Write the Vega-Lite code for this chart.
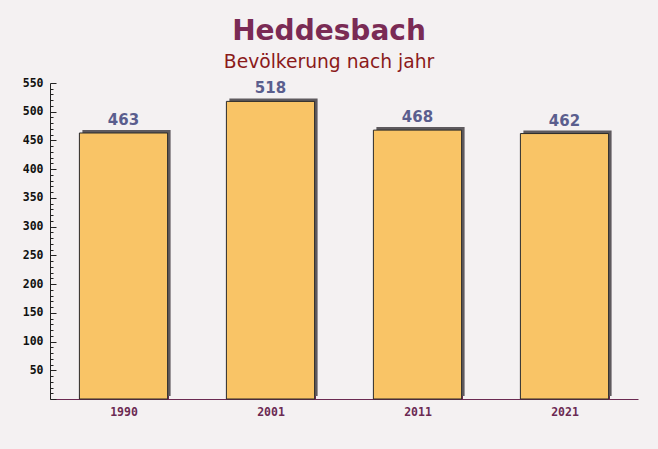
{
  "$schema": "https://vega.github.io/schema/vega-lite/v6.json",
  "width": 588,
  "height": 316,
  "autosize": {"type": "none"},
  "padding": {"left": 50, "top": 83, "right": 20, "bottom": 50},
  "background": "#f4f1f2",
  "title": {
    "text": "Heddesbach",
    "subtitle": "Bevölkerung nach jahr",
    "anchor": "middle",
    "dx": -15,
    "offset": 5,
    "font": "DejaVu Sans",
    "fontSize": 28,
    "fontWeight": "bold",
    "color": "#7a2b55",
    "subtitleFont": "DejaVu Sans",
    "subtitleFontSize": 18.7,
    "subtitleColor": "#8b1a1a",
    "subtitlePadding": 7
  },
  "config": {"view": {"stroke": null}},
  "data": {
    "values": [
      {"jahr": "1990", "einwohner": 463},
      {"jahr": "2001", "einwohner": 518},
      {"jahr": "2011", "einwohner": 468},
      {"jahr": "2021", "einwohner": 462}
    ]
  },
  "encoding": {
    "x": {
      "field": "jahr",
      "type": "ordinal",
      "scale": {"paddingInner": 0.4, "paddingOuter": 0.2},
      "axis": {
        "title": null,
        "labelAngle": 0,
        "labelFont": "DejaVu Sans Mono",
        "labelFontWeight": "bold",
        "labelFontSize": 11.5,
        "labelColor": "#6b2a52",
        "labelPadding": 12,
        "tickBand": "extent",
        "tickSize": -5,
        "tickColor": "#6b2a52",
        "domainColor": "#6b2a52"
      }
    },
    "y": {
      "field": "einwohner",
      "type": "quantitative",
      "scale": {"domain": [0, 550], "nice": false},
      "axis": {
        "title": null,
        "grid": false,
        "values": [0,10,20,30,40,50,60,70,80,90,100,110,120,130,140,150,160,170,180,190,200,210,220,230,240,250,260,270,280,290,300,310,320,330,340,350,360,370,380,390,400,410,420,430,440,450,460,470,480,490,500,510,520,530,540,550],
        "labelExpr": "datum.value % 50 === 0 && datum.value > 0 ? datum.label : ''",
        "labelFont": "DejaVu Sans Mono",
        "labelFontWeight": "bold",
        "labelFontSize": 11.5,
        "labelColor": "#111111",
        "labelPadding": 13,
        "tickSize": {"condition": {"test": "datum.value % 50 === 0", "value": -6}, "value": -3},
        "tickColor": "#222222",
        "domainColor": "#222222"
      }
    }
  },
  "layer": [
    {
      "mark": {"type": "bar", "color": "#5e5a5e", "xOffset": 3, "yOffset": -3, "y2Offset": 0}
    },
    {
      "mark": {"type": "bar", "color": "#f9c466", "stroke": "#2a2a2a", "strokeWidth": 1}
    },
    {
      "mark": {"type": "text", "baseline": "bottom", "dy": -5, "font": "DejaVu Sans", "fontSize": 15, "fontWeight": "bold", "color": "#5a5e8e"},
      "encoding": {"text": {"field": "einwohner", "type": "quantitative"}}
    }
  ]
}
